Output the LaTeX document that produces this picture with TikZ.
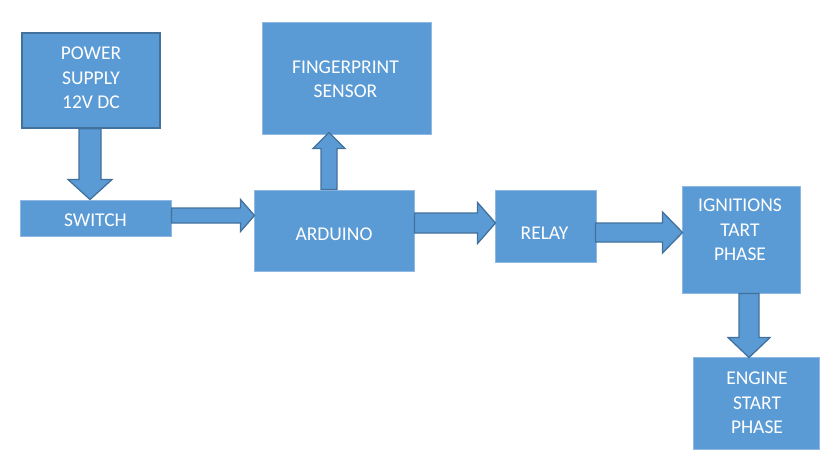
\documentclass[tikz,border=0pt]{standalone}
\usepackage{fontspec}
\setmainfont{Carlito}
\usetikzlibrary{calc}
\definecolor{boxfill}{HTML}{5B9BD5}
\definecolor{darkedge}{HTML}{41719C}
\definecolor{lightedge}{HTML}{8FB8E2}
\tikzset{
  box/.style={draw=lightedge, line width=1pt, fill=boxfill, inner sep=0pt},
  darkbox/.style={box, draw=darkedge, line width=1.3pt},
  txt/.style={text=white, align=center, inner sep=0pt,
    font=\fontsize{19.5}{24.5}\selectfont},
  barrow/.style={draw=darkedge, fill=boxfill, line width=1.3pt, line join=miter}
}
% right-pointing block arrow: #1 start, #2 tip, #3 shaft half width, #4 head half width, #5 head length
\newcommand{\blockR}[5]{%
  \draw[barrow] ($(#1)+(0,-#3)$) -- ($(#2)+(-#5,-#3)$) -- ($(#2)+(-#5,-#4)$) -- (#2)
    -- ($(#2)+(-#5,#4)$) -- ($(#2)+(-#5,#3)$) -- ($(#1)+(0,#3)$) -- cycle;}
% down-pointing block arrow (y axis points down)
\newcommand{\blockD}[5]{%
  \draw[barrow] ($(#1)+(-#3,0)$) -- ($(#2)+(-#3,-#5)$) -- ($(#2)+(-#4,-#5)$) -- (#2)
    -- ($(#2)+(#4,-#5)$) -- ($(#2)+(#3,-#5)$) -- ($(#1)+(#3,0)$) -- cycle;}
% up-pointing block arrow
\newcommand{\blockU}[5]{%
  \draw[barrow] ($(#1)+(-#3,0)$) -- ($(#2)+(-#3,#5)$) -- ($(#2)+(-#4,#5)$) -- (#2)
    -- ($(#2)+(#4,#5)$) -- ($(#2)+(#3,#5)$) -- ($(#1)+(#3,0)$) -- cycle;}
\begin{document}
\begin{tikzpicture}[x=1pt,y=-1pt]
\useasboundingbox (0,0) rectangle (837,472);
% boxes
\node[darkbox, minimum width=138pt, minimum height=95pt] (ps) at (91,80.5) {};
\node[box, minimum width=151pt, minimum height=36pt] (sw) at (95.5,218) {};
\node[box, minimum width=169pt, minimum height=112pt] (fp) at (346.5,78) {};
\node[box, minimum width=160pt, minimum height=81pt] (ard) at (334,230.5) {};
\node[box, minimum width=101pt, minimum height=72pt] (rel) at (545.5,226) {};
\node[box, minimum width=118pt, minimum height=107pt] (ign) at (741,239.5) {};
\node[box, minimum width=126pt, minimum height=92pt] (eng) at (756,403) {};
% texts
\node[txt] (ps-t) at ($(ps.center)+(0,-2.5)$) {POWER\\SUPPLY\\12V DC};
\node[txt] (sw-t) at ($(sw.center)+(0,2)$) {SWITCH};
\node[txt] (fp-t) at ($(fp.center)+(-1,1)$) {FINGERPRINT\\SENSOR};
\node[txt] (ard-t) at ($(ard.center)+(0,3.5)$) {ARDUINO};
\node[txt] (rel-t) at ($(rel.center)+(-1,7)$) {RELAY};
\node[txt] (ign-t) at ($(ign.center)+(-1,-9.5)$) {IGNITIONS\\TART\\PHASE};
\node[txt] (eng-t) at ($(eng.center)+(1,0)$) {ENGINE\\START\\PHASE};
% arrow anchors
\coordinate (a1s) at ($(ps.south)+(-1,0)$);
\coordinate (a1e) at (a1s |- sw.north);
\coordinate (a2s) at ($(sw.east)+(0,-2.5)$);
\coordinate (a2e) at ($(a2s -| ard.west)+(1,0)$);
\coordinate (a3s) at ($(ard.north)+(-5,0)$);
\coordinate (a3e) at ($(a3s |- fp.south)+(0,-2)$);
\coordinate (a4s) at ($(ard.east)+(0,-7.5)$);
\coordinate (a4e) at ($(a4s -| rel.west)+(1,0)$);
\coordinate (a5s) at ($(rel.east)+(-1,6.5)$);
\coordinate (a5e) at ($(a5s -| ign.west)+(1,0)$);
\coordinate (a6s) at ($(ign.south)+(8,0)$);
\coordinate (a6e) at ($(a6s |- eng.north)+(0,1)$);
% block arrows
\blockD{a1s}{a1e}{11}{22}{20}
\blockR{a2s}{a2e}{7.5}{16}{14}
\blockU{a3s}{a3e}{8}{16}{16}
\blockR{a4s}{a4e}{10}{20.5}{18}
\blockR{a5s}{a5e}{9.5}{20.5}{20}
\blockD{a6s}{a6e}{10}{21}{20}
\end{tikzpicture}
\end{document}
